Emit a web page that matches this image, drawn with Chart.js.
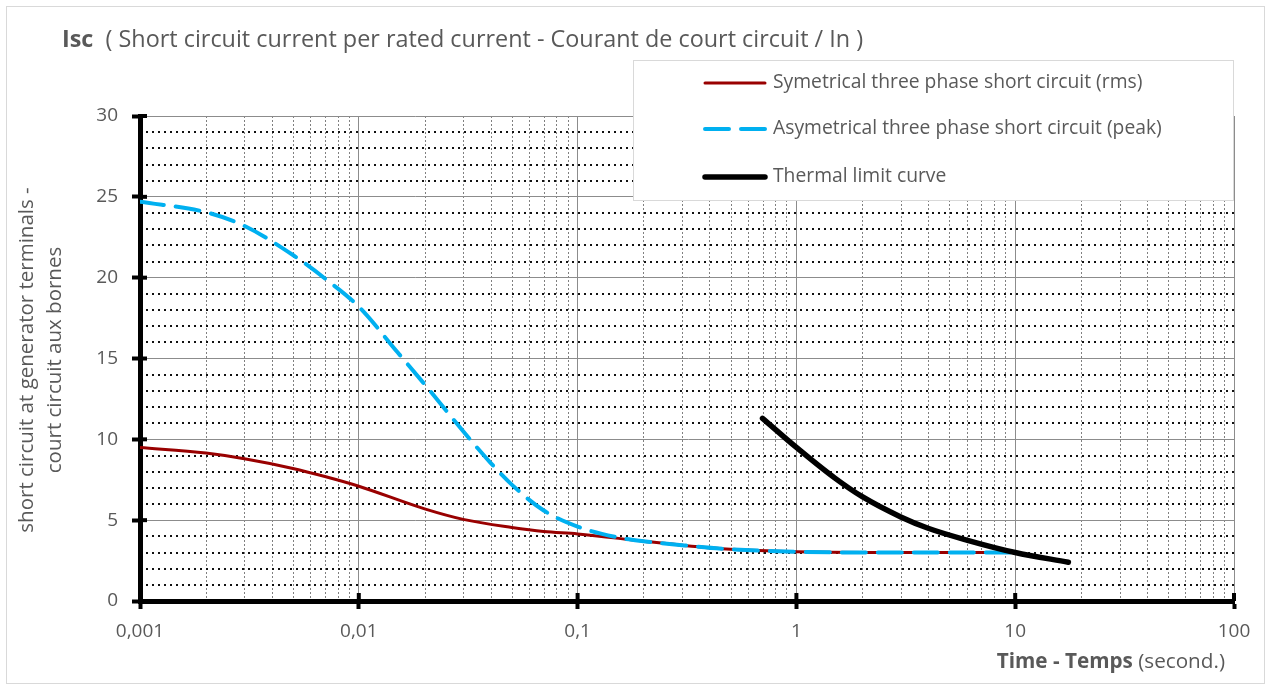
<!DOCTYPE html>
<html>
<head>
<meta charset="utf-8">
<script src="https://cdn.jsdelivr.net/npm/chart.js@4.4.0/dist/chart.umd.min.js"></script>
<style>
    html, body { margin: 0; padding: 0; background: #fff; }
</style>
</head>
<body>
<canvas id="graph" width="1271" height="691"></canvas>
<script>
// values (time in seconds, current in x In)
const symTime = [0.001, 0.002, 0.003, 0.005, 0.007, 0.01, 0.02, 0.03, 0.05, 0.07, 0.1, 0.2, 0.3, 0.5, 1, 2, 5, 10];
const symIsc  = [9.5, 9.15, 8.8, 8.2, 7.7, 7.1, 5.7, 5.05, 4.55, 4.3, 4.15, 3.7, 3.45, 3.2, 3.05, 3.0, 3.0, 3.0];

const peakTime = [0.001, 0.002, 0.003, 0.005, 0.007, 0.01, 0.015, 0.02, 0.03, 0.04, 0.05, 0.07, 0.1, 0.15, 0.2, 0.3, 0.5, 1, 2, 5, 10];
const peakIsc  = [24.7, 24.05, 23.2, 21.4, 19.95, 18.2, 15.4, 13.4, 10.5, 8.55, 7.2, 5.6, 4.6, 3.95, 3.7, 3.45, 3.2, 3.05, 3.0, 3.0, 3.0];

const thermTime = [0.7, 1, 1.5, 2, 3, 4, 6, 10, 17.5];
const thermIsc  = [11.3, 9.5, 7.6, 6.45, 5.2, 4.5, 3.77, 3.0, 2.4];

const seriesNames = [
    'Symetrical three phase short circuit (rms)',
    'Asymetrical three phase short circuit (peak)',
    'Thermal limit curve'
];

const xTickValues = [0.001, 0.01, 0.1, 1, 10, 100];
const xTickLabels = ['0,001', '0,01', '0,1', '1', '10', '100'];
const xMinorSteps = [2, 3, 4, 5, 6, 7, 8, 9];
const yMax = 30;
const yMajorStep = 5;

const FONT = '"Open Sans", Lato, sans-serif';
const TEXT = '#595959';

function toPoints(xs, ys) {
    return xs.map((x, i) => ({ x: x, y: ys[i] }));
}

// pick a font size so that the text spans about the same width as in the original
function fitFont(ctx, text, width, weight) {
    ctx.font = (weight || '') + ' 20px ' + FONT;
    const size = 20 * width / ctx.measureText(text).width;
    return size.toFixed(1) + 'px ' + FONT;
}

// background, frame and the dotted minor grid (under the major grid)
const minorGrid = {
    id: 'minorGrid',
    beforeDraw(chart) {
        const ctx = chart.ctx;
        const a = chart.chartArea;
        const xs = chart.scales.x, ys = chart.scales.y;
        ctx.save();
        ctx.fillStyle = '#fff';
        ctx.fillRect(0, 0, chart.width, chart.height);
        ctx.strokeStyle = '#d9d9d9';
        ctx.lineWidth = 1;
        ctx.strokeRect(6.5, 6.5, chart.width - 13, chart.height - 14);

        ctx.setLineDash([2, 2]);
        ctx.strokeStyle = '#808080';
        ctx.lineWidth = 1;
        for (let d = 0; d < xTickValues.length - 1; d++) {
            xMinorSteps.forEach(k => {
                const px = Math.round(xs.getPixelForValue(xTickValues[d] * k)) + 0.5;
                ctx.beginPath();
                ctx.moveTo(px, a.top);
                ctx.lineTo(px, a.bottom);
                ctx.stroke();
            });
        }

        ctx.setLineDash([2, 4]);
        ctx.strokeStyle = '#111';
        ctx.lineWidth = 2;
        for (let v = 1; v < yMax; v++) {
            if (v % yMajorStep === 0) continue;
            const py = Math.round(ys.getPixelForValue(v));
            ctx.beginPath();
            ctx.moveTo(a.left, py);
            ctx.lineTo(a.right, py);
            ctx.stroke();
        }
        ctx.restore();
    }
};

// the major tick marks cross the axis line, so add the inner half
const crossTicks = {
    id: 'crossTicks',
    afterDatasetsDraw(chart) {
        const ctx = chart.ctx;
        const a = chart.chartArea;
        const xs = chart.scales.x, ys = chart.scales.y;
        ctx.save();
        ctx.strokeStyle = '#000';
        ctx.lineWidth = 4;
        xTickValues.forEach(v => {
            const px = xs.getPixelForValue(v);
            ctx.beginPath();
            ctx.moveTo(px, a.bottom);
            ctx.lineTo(px, a.bottom - 8);
            ctx.stroke();
        });
        for (let v = 0; v <= yMax; v += yMajorStep) {
            const py = ys.getPixelForValue(v);
            ctx.beginPath();
            ctx.moveTo(a.left, py);
            ctx.lineTo(a.left + 7, py);
            ctx.stroke();
        }
        ctx.restore();
    }
};

// legend box sitting over the top right of the plot
const boxLegend = {
    id: 'boxLegend',
    afterDatasetsDraw(chart) {
        const ctx = chart.ctx;
        const bx = 633, by = 60, bw = 600, bh = 140;
        const rows = [83, 129, 177];
        ctx.save();
        ctx.fillStyle = '#fff';
        ctx.fillRect(bx, by, bw, bh);
        ctx.strokeStyle = '#d9d9d9';
        ctx.lineWidth = 1;
        ctx.strokeRect(bx + 0.5, by + 0.5, bw, bh);

        const font = fitFont(ctx, seriesNames[0], 370);
        chart.data.datasets.forEach((ds, i) => {
            const y = rows[i];
            ctx.strokeStyle = ds.borderColor;
            ctx.lineWidth = ds.borderWidth;
            ctx.lineCap = 'round';
            ctx.setLineDash(ds.borderDash || []);
            ctx.beginPath();
            ctx.moveTo(705, y);
            ctx.lineTo(765, y);
            ctx.stroke();
            ctx.setLineDash([]);
            ctx.fillStyle = TEXT;
            ctx.font = font;
            ctx.textAlign = 'left';
            ctx.textBaseline = 'middle';
            ctx.fillText(ds.label, 773, y);
        });
        ctx.restore();
    }
};

// titles with mixed bold / normal runs
const titles = {
    id: 'titles',
    afterDraw(chart) {
        const ctx = chart.ctx;
        ctx.save();
        ctx.fillStyle = TEXT;
        ctx.textBaseline = 'middle';

        const rest = '  ( Short circuit current per rated current - Courant de court circuit / In )';
        const tFont = fitFont(ctx, 'Isc' + rest, 800);
        ctx.textAlign = 'left';
        ctx.font = 'bold ' + tFont;
        ctx.fillText('Isc', 62, 40);
        const w = ctx.measureText('Isc').width;
        ctx.font = tFont;
        ctx.fillText(rest, 62 + w, 40);

        const xFont = fitFont(ctx, 'Time - Temps (second.)', 222);
        ctx.textAlign = 'right';
        ctx.font = xFont;
        ctx.fillText('(second.)', 1225, 662);
        const w2 = ctx.measureText('(second.)').width;
        ctx.font = 'bold ' + xFont;
        ctx.fillText('Time - Temps ', 1225 - w2, 662);

        const line1 = 'short circuit at generator terminals -';
        const yFont = fitFont(ctx, line1, 346);
        ctx.translate(41, 360);
        ctx.rotate(-Math.PI / 2);
        ctx.textAlign = 'center';
        ctx.font = yFont;
        ctx.fillText(line1, 0, -14);
        ctx.fillText('court circuit aux bornes', 0, 14);
        ctx.restore();
    }
};

const ctx = document.getElementById('graph').getContext('2d');

const chart = new Chart(ctx, {
    type: 'line',
    data: {
        datasets: [{
            label: seriesNames[0],
            data: toPoints(symTime, symIsc),
            borderColor: '#990000',
            borderWidth: 3,
            order: 3
        }, {
            label: seriesNames[1],
            data: toPoints(peakTime, peakIsc),
            borderColor: '#00b0f0',
            borderWidth: 4,
            borderDash: [24, 12],
            borderCapStyle: 'round',
            order: 2
        }, {
            label: seriesNames[2],
            data: toPoints(thermTime, thermIsc),
            borderColor: '#000000',
            borderWidth: 5.5,
            borderCapStyle: 'round',
            order: 1
        }]
    },
    options: {
        responsive: false,
        animation: false,
        events: [],
        layout: { padding: { left: 0, top: 116, right: 37, bottom: 0 } },
        elements: {
            point: { radius: 0 },
            line: { cubicInterpolationMode: 'monotone', fill: false }
        },
        plugins: {
            legend: { display: false },
            tooltip: { enabled: false }
        },
        scales: {
            x: {
                type: 'logarithmic',
                min: xTickValues[0],
                max: xTickValues[xTickValues.length - 1],
                afterBuildTicks: function(scale) {
                    scale.ticks = xTickValues.map(v => ({ value: v }));
                },
                afterFit: function(scale) { scale.height = 90; },
                ticks: {
                    autoSkip: false,
                    maxRotation: 0,
                    padding: 11,
                    color: TEXT,
                    font: { family: FONT, size: 19 },
                    callback: function(value, index) { return xTickLabels[index]; }
                },
                grid: {
                    color: '#8c8c8c',
                    lineWidth: 1,
                    tickLength: 8,
                    tickWidth: 4,
                    tickColor: '#000'
                },
                border: { color: '#000', width: 5 }
            },
            y: {
                type: 'linear',
                min: 0,
                max: yMax,
                afterFit: function(scale) { scale.width = 140; },
                ticks: {
                    stepSize: yMajorStep,
                    padding: 14,
                    color: TEXT,
                    font: { family: FONT, size: 19 }
                },
                grid: {
                    color: '#8c8c8c',
                    lineWidth: 1,
                    tickLength: 8,
                    tickWidth: 4,
                    tickColor: '#000'
                },
                border: { color: '#000', width: 5 }
            }
        }
    },
    plugins: [minorGrid, crossTicks, boxLegend, titles]
});
</script>
</body>
</html>
